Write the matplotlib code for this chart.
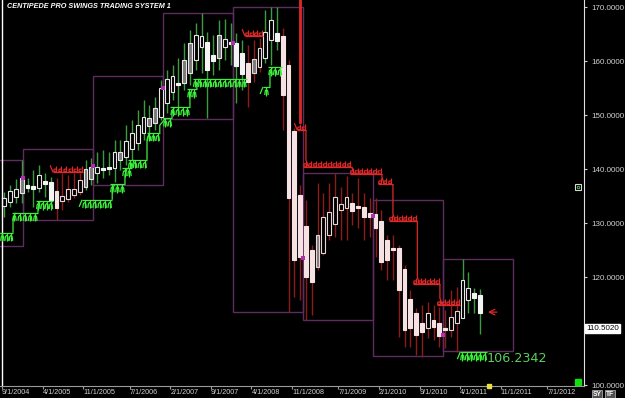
import numpy as np
import matplotlib
matplotlib.use("Agg")
import matplotlib.pyplot as plt
from matplotlib.collections import LineCollection
from matplotlib.patches import Rectangle
import matplotlib.transforms as mtransforms

# monthly candles, index 0 = Sep 2004 ... index 82 = Jul 2011
opens = [133.2, 133.9, 134.8, 135.6, 137.0, 136.9, 136.5, 137.8, 137.6, 135.9,
         134.1, 134.5, 135.2, 135.7, 136.7, 138.2, 139.3, 140.2, 140.4, 140.2,
         141.7, 142.2, 143.7, 144.8, 146.7, 148.0, 148.5, 149.6, 152.2, 154.3,
         155.9, 155.9, 157.8, 160.2, 162.6, 163.5, 161.1, 160.6, 162.6, 163.3,
         163.3, 161.5, 159.6, 157.8, 158.9, 160.6, 163.9, 165.2, 164.6, 159.3,
         147.0, 135.2, 129.4, 125.0, 121.9, 124.4, 127.8, 129.8, 132.4, 132.8,
         133.7, 133.2, 133.0, 131.9, 131.7, 130.4, 126.9, 125.4, 125.4, 121.5,
         115.9, 113.3, 111.5, 110.6, 112.0, 111.5, 110.6, 110.2, 111.5, 112.4,
         115.7, 117.0, 116.7]
highs = [135.7, 137.0, 138.2, 141.7, 138.3, 139.8, 140.7, 139.3, 138.5, 138.3,
         139.3, 138.9, 139.3, 139.3, 141.7, 142.0, 143.2, 143.5, 143.2, 145.4,
         145.4, 148.2, 149.1, 150.9, 152.8, 151.9, 153.3, 156.5, 158.3, 159.3,
         160.6, 163.3, 165.7, 167.0, 168.9, 165.4, 164.8, 167.6, 167.8, 167.0,
         165.2, 163.9, 163.0, 163.9, 164.3, 169.4, 170.0, 170.0, 166.1, 160.2,
         147.6, 137.0, 134.3, 125.9, 137.4, 135.6, 137.4, 139.3, 136.7, 138.7,
         135.6, 138.3, 135.6, 134.6, 134.6, 132.4, 127.8, 127.8, 125.9, 122.2,
         117.6, 114.3, 114.8, 115.4, 114.8, 114.4, 113.9, 117.6, 118.2, 123.3,
         121.0, 118.0, 117.8]
lows = [131.1, 133.0, 133.7, 133.7, 135.7, 133.0, 135.7, 134.8, 133.9, 130.6,
        132.4, 133.9, 134.6, 135.2, 136.1, 137.0, 137.4, 138.3, 138.9, 137.6,
        139.8, 140.7, 141.7, 143.5, 145.4, 146.3, 147.2, 149.1, 150.4, 152.8,
        150.4, 154.6, 155.6, 158.3, 157.8, 149.4, 157.4, 158.3, 160.2, 159.3,
        152.2, 154.6, 151.5, 156.1, 158.0, 159.6, 159.3, 162.0, 147.2, 113.5,
        116.3, 115.7, 112.0, 113.0, 121.3, 124.1, 126.9, 127.4, 126.9, 126.9,
        129.6, 129.1, 126.9, 127.4, 123.7, 121.3, 119.4, 119.4, 108.9, 107.0,
        107.0, 105.6, 105.2, 108.7, 108.3, 107.0, 106.9, 108.9, 106.1, 112.4,
        113.3, 113.3, 109.5]
closes = [134.6, 135.9, 136.3, 138.3, 136.5, 136.3, 138.9, 137.2, 134.3, 132.8,
          135.0, 136.3, 136.3, 138.0, 140.0, 140.4, 140.4, 139.8, 140.0, 143.2,
          143.2, 145.2, 146.7, 148.2, 149.6, 149.4, 151.3, 155.0, 156.7, 157.2,
          155.6, 160.2, 163.3, 164.8, 164.6, 158.3, 160.0, 164.8, 164.1, 163.2,
          159.1, 157.6, 156.1, 160.4, 162.4, 165.4, 167.6, 163.7, 153.7, 134.6,
          123.2, 123.7, 120.0, 119.1, 127.8, 131.1, 132.0, 134.8, 133.5, 134.8,
          132.2, 132.8, 131.1, 131.1, 129.1, 122.8, 123.2, 125.0, 117.6, 110.2,
          110.6, 109.3, 109.8, 113.3, 110.7, 109.1, 110.2, 112.6, 113.7, 119.4,
          118.0, 116.1, 113.3]
gray_bodies = [3, 14, 15, 20, 25, 26, 31, 32, 37, 43, 54]
short_candles = [(9, 13), (42, 44), (48, 78)]   # candles in the short regime

# yearly swing boxes (x in months since Sep 2004)
box_edges = [-1.0, 3.6, 15.7, 27.8, 39.8, 51.9, 64.0, 76.0, 88.1]
box_highs = [141.7, 143.7, 157.2, 168.9, 170.0, 139.3, 134.3, 123.3]
box_lows = [125.7, 130.6, 137.0, 149.3, 113.5, 112.0, 105.4, 106.3]
box_marks = [138.3, 140.5, 155.0, 163.3, 123.5, 131.3, 109.3]

# centipede stops: (start month, end month, level)
long_runs = [
    [(-0.3, 1.9, 128.2), (1.7, 6.2, 131.9), (5.9, 8.8, 134.1)],
    [(13.8, 19.0, 134.3), (18.6, 21.2, 137.2), (20.7, 22.4, 140.2),
     (21.7, 25.0, 141.7), (25.0, 27.2, 146.7), (27.8, 29.3, 149.4),
     (29.0, 32.4, 151.5), (31.9, 33.6, 154.8), (32.9, 42.2, 156.7)],
    [(45.0, 46.2, 155.2), (45.9, 48.3, 158.9)],
    [(79.0, 83.6, 106.1)],
]
short_runs = [
    [(8.8, 14.0, 139.4)],
    [(41.9, 45.0, 164.6)],
    [(50.9, 52.4, 147.2), (51.9, 60.3, 140.4), (60.0, 65.5, 139.1),
     (64.8, 67.4, 137.2), (66.7, 71.6, 130.4), (70.9, 75.5, 118.7),
     (75.0, 79.0, 114.8)],
]
crash_stop = (51.4, 148.7)
last_stop = 106.2342
last_price = 110.5020

tick_labels = ["9/1/2004", "4/1/2005", "11/1/2005", "7/1/2006", "2/1/2007",
               "9/1/2007", "4/1/2008", "11/1/2008", "7/1/2009", "2/1/2010",
               "9/1/2010", "4/1/2011", "11/1/2011", "7/1/2012"]
price_ticks = [100, 120, 130, 140, 150, 160, 170]

GREEN = "#3cf03c"
RED = "#e02828"
BOX = "#5e2c5e"

fig = plt.figure(figsize=(6.25, 3.98), dpi=100, facecolor="black")
ax = fig.add_axes([0, 12 / 398, 584 / 625, 386 / 398], facecolor="black")
ax.set_xlim(-0.345, 100.34)
ax.set_ylim(99.82, 171.3)

# swing boxes
for k in range(len(box_highs)):
    ax.add_patch(Rectangle((box_edges[k], box_lows[k]), box_edges[k + 1] - box_edges[k],
                           box_highs[k] - box_lows[k], fill=False, edgecolor=BOX,
                           linewidth=1.0, zorder=1))
ax.scatter(box_edges[1:8], box_marks, marker="s", s=5, color="#b030b0", zorder=6, linewidths=0)

# candles
n = len(opens)
xs = np.arange(n) + 0.4
is_short = np.zeros(n, bool)
for a, b in short_candles:
    is_short[a:b + 1] = True
for i in range(n):
    o, h, l, c = opens[i], highs[i], lows[i], closes[i]
    wick = "#8a1c1c" if is_short[i] else "#3f9a3f"
    ax.plot([xs[i], xs[i]], [l, h], color=wick, lw=1.0, zorder=2, solid_capstyle="butt")
    lo_b, hi_b = min(o, c), max(o, c)
    if c >= o:
        face = "#7a7a7a" if i in gray_bodies else "black"
        edge = "#e8d4d4" if is_short[i] else "#e6e6e6"
    else:
        face = "#f6e2e2" if is_short[i] else "#f4f4f4"
        edge = face
    ax.add_patch(Rectangle((xs[i] - 0.33, lo_b), 0.66, max(hi_b - lo_b, 0.3),
                           facecolor=face, edgecolor=edge, linewidth=0.8, zorder=3))


def centipede(runs, color, sign):
    # sign -1: long stop, legs hang below; +1: short stop, legs stand above
    segs = []
    for run in runs:
        for k, (m0, m1, lvl) in enumerate(run):
            segs.append([(m0, lvl), (m1, lvl)])
            if k == 0:
                segs.append([(m0 - 0.5, lvl + sign * 1.3), (m0, lvl)])
            legs = max(1, int(round((m1 - m0) / 0.82)))
            step = (m1 - m0) / legs
            for j in range(legs):
                x = m0 + step * (j + 0.5)
                if sign < 0:
                    segs.append([(x, lvl), (x, lvl - 1.6)])
                    segs.append([(x - 0.3, lvl - 1.5), (x - 0.2, lvl - 0.7), (x, lvl - 0.5),
                                 (x + 0.2, lvl - 0.7), (x + 0.3, lvl - 1.5)])
                else:
                    segs.append([(x + 0.15, lvl), (x + 0.15, lvl + 1.1)])
                    segs.append([(x + 0.15, lvl + 0.6), (x - 0.25, lvl + 0.55),
                                 (x - 0.3, lvl + 0.15), (x + 0.15, lvl + 0.1)])
            if k + 1 < len(run):
                n0, n1, nl = run[k + 1]
                segs.append([(m1, lvl), (m1, nl + sign * 1.3), (max(n0, m1) + 0.4, nl)])
    ax.add_collection(LineCollection(segs, colors=color, linewidths=0.9, zorder=5))


centipede(long_runs, GREEN, -1)
centipede(short_runs, RED, 1)
ax.plot([crash_stop[0]] * 2, [171.3, crash_stop[1]], color=RED, lw=2, zorder=5)

# marker on the last bar
ax.annotate("", xy=(83.3, 113.5), xytext=(85.8, 113.5),
            arrowprops=dict(arrowstyle="->", color=RED, lw=0.9))
ax.text(83.5, 104.9, f"{last_stop:.4f}", color="#5ccf5c", fontsize=9.2,
        ha="left", va="center", zorder=6)

# left cursor line
ax.axvline(0, color="white", lw=1.0, zorder=4)

# axes styling
for s in ["top", "left"]:
    ax.spines[s].set_visible(False)
ax.spines["right"].set_color("#e0e0e0")
ax.spines["bottom"].set_color("#9a9a9a")

tick_pos = []
for t in tick_labels:
    mo, _, yr = t.split("/")
    tick_pos.append((int(yr) - 2004) * 12 + int(mo) - 9)
ax.set_xticks(tick_pos)
ax.set_xticklabels(tick_labels, ha="left")
ax.tick_params(axis="x", colors="#9a9a9a", labelcolor="#d0d0d0", length=2,
               pad=0.5, labelsize=5.2)
for lab in ax.get_xticklabels():
    lab.set_fontfamily("Liberation Sans")

ax.yaxis.tick_right()
ax.set_yticks(price_ticks)
ax.set_yticklabels([f"{v:.4f}" for v in price_ticks])
ax.tick_params(axis="y", colors="#d0d0d0", length=2, pad=3, labelsize=5.8)
for lab in ax.get_yticklabels():
    lab.set_fontfamily("Liberation Sans")

trans = mtransforms.blended_transform_factory(ax.transAxes, ax.transData)
ax.text(1.004, last_price, f"{last_price:.4f}", transform=trans, color="black",
        fontsize=5.8, family="Liberation Sans", ha="left", va="center", clip_on=False,
        bbox=dict(boxstyle="square,pad=0.15", facecolor="white", edgecolor="white"),
        zorder=7)

ax.text(0.012, 0.992, "CENTIPEDE PRO SWINGS TRADING SYSTEM 1", transform=ax.transAxes,
        color="white", fontsize=5.2, fontweight="bold", fontstyle="italic",
        family="Liberation Sans", ha="left", va="top")

# small chart widgets
ax.plot(99.3, 136.6, marker="s", ms=4.5, mfc="black", mec="#d8d8d8", mew=0.8,
        clip_on=False, zorder=7)
ax.plot(99.3, 136.6, marker="o", ms=1.8, mfc="none", mec="#5ccf5c", mew=0.6,
        clip_on=False, zorder=8)
ax.plot(99.3, 100.6, marker="s", ms=4.5, color="#10e010", clip_on=False, zorder=7)
ax.plot(84.0, 99.82, marker="s", ms=2.5, color="#e8e040", clip_on=False, zorder=7)
for px, lab in [(597, "SY"), (610, "TF")]:
    fig.text(px / 625, 1 - 394 / 398, lab, color="white", fontsize=4.8, fontweight="bold",
             family="Liberation Sans", ha="center", va="center",
             bbox=dict(boxstyle="square,pad=0.15", facecolor="#505050", edgecolor="#c0c0c0",
                       linewidth=0.5))

fig.savefig("out.png", dpi=100, facecolor="black")
